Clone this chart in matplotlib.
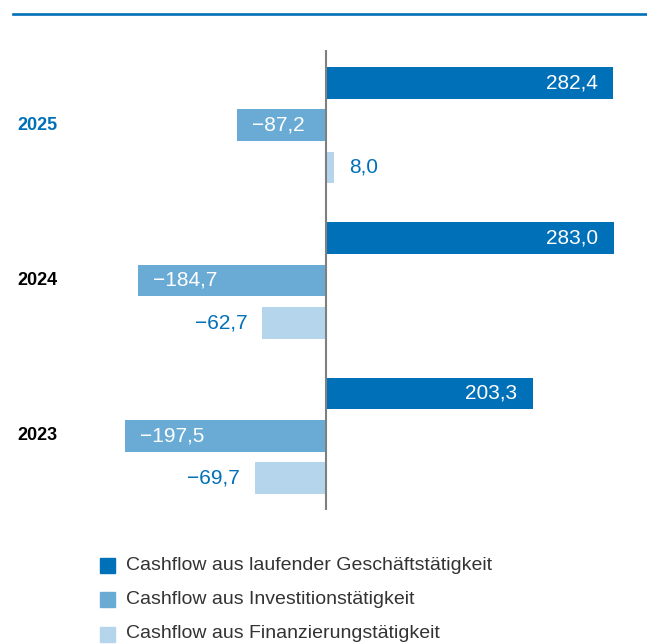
import numpy as np
import matplotlib
matplotlib.use("Agg")
import matplotlib.pyplot as plt
from matplotlib.lines import Line2D
from matplotlib.patches import Rectangle
import matplotlib.transforms as mtransforms

plt.rcParams['font.family'] = ['Liberation Sans', 'DejaVu Sans']

# data (Mio. EUR)
years = ['2025', '2024', '2023']
series_names = ['Cashflow aus laufender Geschäftstätigkeit',
                'Cashflow aus Investitionstätigkeit',
                'Cashflow aus Finanzierungstätigkeit']
operating = [282.4, 283.0, 203.3]
investing = [-87.2, -184.7, -197.5]
financing = [8.0, -62.7, -69.7]

colors = ['#0070B8', '#6AABD6', '#B5D5EC']
blue = '#0070B8'

W, H = 647, 644
fig = plt.figure(figsize=(W / 100, H / 100), dpi=100)

# axes spans full width, vertical extent of the zero line
ax = fig.add_axes([0, (H - 510) / H, 1, 460 / H])
px_per_unit = 1.016
ax.set_xlim(-326 / px_per_unit, (W - 326) / px_per_unit)

group_step = 3.67
bar_h = 0.75
values = [operating, investing, financing]
val_fs = 15

for k, vals in enumerate(values):
    ys = [g * group_step + k for g in range(len(years))]
    ax.barh(ys, vals, height=bar_h, color=colors[k], zorder=2)
    for y, v in zip(ys, vals):
        txt = ('%.1f' % abs(v)).replace('.', ',')
        if v < 0:
            txt = '\u2212' + txt
        pad = 15 / px_per_unit
        if k < 2:
            # label inside the bar
            if v >= 0:
                ax.text(v - pad, y, txt, ha='right', va='center', color='white', fontsize=val_fs)
            else:
                ax.text(v + pad, y, txt, ha='left', va='center', color='white', fontsize=val_fs)
        else:
            if v >= 0:
                ax.text(v + pad, y, txt, ha='left', va='center', color=blue, fontsize=val_fs)
            else:
                ax.text(v - pad, y, txt, ha='right', va='center', color=blue, fontsize=val_fs)

ax.set_ylim(2 * group_step + 2 + 0.755, -0.775)
ax.axvline(0, color='#7f7f7f', lw=1.5, zorder=3)
ax.axis('off')

# year labels
trans = mtransforms.blended_transform_factory(ax.transAxes, ax.transData)
for g, yr in enumerate(years):
    ax.text(17 / W, g * group_step + 1, yr, transform=trans, ha='left', va='center',
            fontsize=13, fontweight='bold', color=blue if g == 0 else 'black')

# top rule
fig.add_artist(Line2D([13 / W, 1], [1 - 14 / H, 1 - 14 / H], color=blue, lw=1.9))

# legend
for k, name in enumerate(series_names):
    yc = 565 + k * 34.5
    fig.add_artist(Rectangle((100 / W, 1 - (yc + 7.5) / H), 15 / W, 15 / H,
                             color=colors[k], transform=fig.transFigure))
    fig.text(126 / W, 1 - yc / H, name, ha='left', va='center', fontsize=14, color='#333333')

fig.savefig('out.png', dpi=100)
